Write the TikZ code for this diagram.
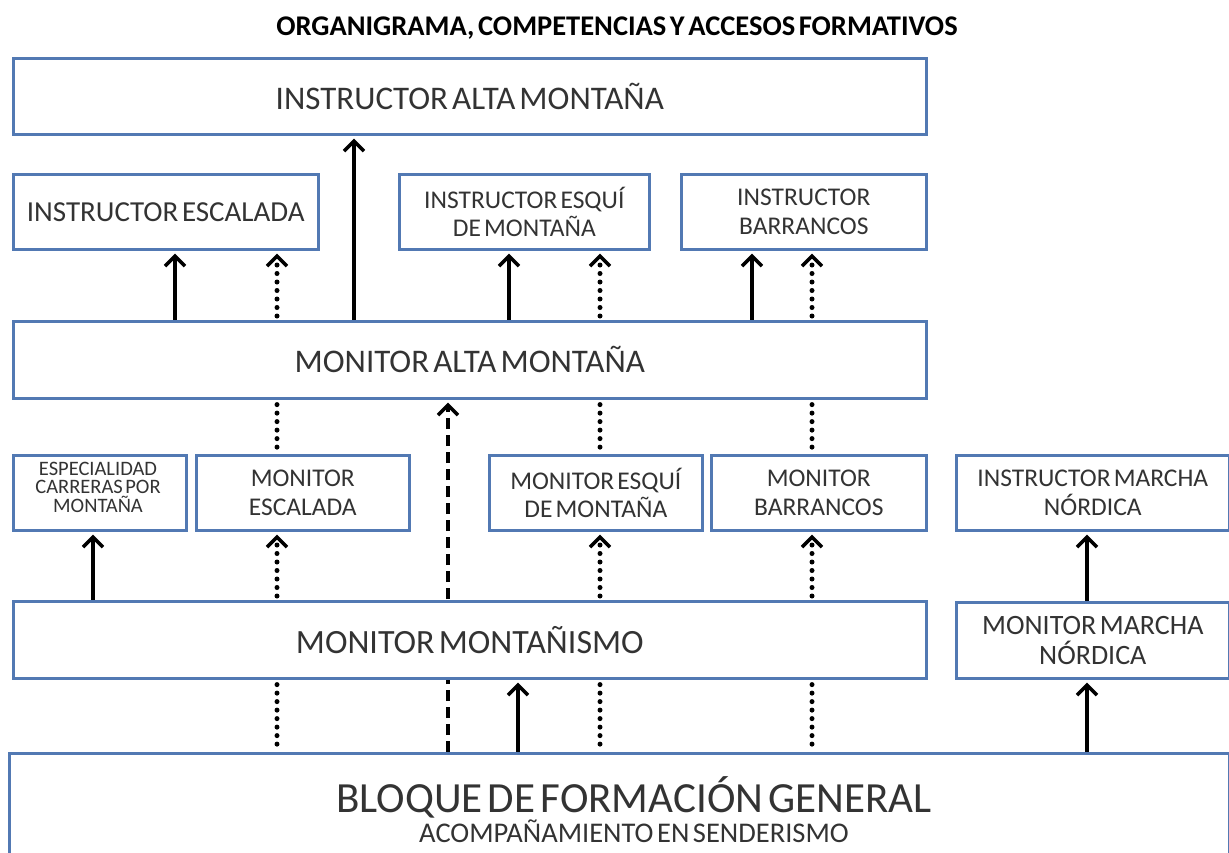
\documentclass[tikz,border=0pt]{standalone}
\usepackage{fontspec}
\setmainfont{Carlito}[WordSpace=0.55]
\usetikzlibrary{arrows.meta,backgrounds}
\definecolor{boxblue}{HTML}{5279B3}
\definecolor{txt}{HTML}{333333}
\tikzset{
  box/.style={draw=boxblue, line width=2.6pt, fill=white, inner sep=0pt, align=center, text=txt, anchor=north west},
  lbl/.style={inner sep=0pt, align=center, text=txt},
  tip/.style={-{Straight Barb[length=10pt,width=20pt,line width=3.5pt]}},
  arr/.style={line width=3.5pt, shorten >=3pt, tip},
  dotarr/.style={line width=5pt, line cap=round, dash pattern=on 0pt off 8.5pt, shorten >=3pt, shorten <=4pt, tip},
  dotline/.style={line width=5pt, line cap=round, dash pattern=on 0pt off 8.5pt, shorten >=5pt, shorten <=5pt},
  dasharr/.style={line width=3.5pt, dash pattern=on 11pt off 6pt, shorten >=3pt, tip},
  fbig/.style={font=\fontsize{33}{38}\selectfont},
  fmid/.style={font=\fontsize{25.5}{28.5}\selectfont},
  fsmall/.style={font=\fontsize{20.5}{18.5}\selectfont},
}
\begin{document}
\begin{tikzpicture}[x=1pt,y=-1pt]
\useasboundingbox (0,0) rectangle (1229,852);
\clip (0,0) rectangle (1229,852);
\node[font=\bfseries\fontsize{28.5}{30}\selectfont] (title) at (617,28) {ORGANIGRAMA, COMPETENCIAS Y ACCESOS FORMATIVOS};
% row 1
\node[box, fbig, minimum width=913pt, minimum height=76pt] (A) at (12,57) {INSTRUCTOR ALTA MONTAÑA};
% row 2
\node[box, font=\fontsize{29}{32}\selectfont, minimum width=305pt, minimum height=75pt] (IEsc) at (12,173) {INSTRUCTOR ESCALADA};
\node[box, fmid, minimum width=250pt, minimum height=75pt] (IEsq) at (398,173) {INSTRUCTOR ESQUÍ\\DE MONTAÑA};
\node[box, fmid, minimum width=245pt, minimum height=75pt] (IBar) at (680,173) {INSTRUCTOR\\BARRANCOS};
% row 3
\node[box, fbig, minimum width=913pt, minimum height=77pt] (MAlta) at (12,320) {MONITOR ALTA MONTAÑA};
% row 4
\node[box, minimum width=173pt, minimum height=75pt] (Esp) at (12,454) {};
\node[lbl, fsmall] (EspT) at (98,487) {ESPECIALIDAD\\CARRERAS POR\\MONTAÑA};
\node[box, fmid, minimum width=213pt, minimum height=75pt] (MEsc) at (195,454) {MONITOR\\ESCALADA};
\node[box, fmid, minimum width=213pt, minimum height=75pt] (MEsq) at (488,454) {MONITOR ESQUÍ\\DE MONTAÑA};
\node[box, fmid, minimum width=215pt, minimum height=75pt] (MBar) at (710,454) {MONITOR\\BARRANCOS};
\node[box, fmid, minimum width=273pt, minimum height=75pt] (IMar) at (955,454) {INSTRUCTOR MARCHA\\NÓRDICA};
% row 5
\node[box, font=\fontsize{34}{38}\selectfont, minimum width=913pt, minimum height=77pt] (MMont) at (12,600) {MONITOR MONTAÑISMO};
\node[box, font=\fontsize{28}{29.5}\selectfont, minimum width=273pt, minimum height=76pt] (MMar) at (955,601) {MONITOR MARCHA\\NÓRDICA};
% bottom
\node[box, minimum width=1220pt, minimum height=118pt] (Bloque) at (8,752) {};
\node[lbl, font=\fontsize{43}{46}\selectfont] (BloqueT) at (634,797) {BLOQUE DE FORMACIÓN GENERAL};
\node[lbl, font=\fontsize{28.5}{30}\selectfont] (BloqueS) at (634,831) {ACOMPAÑAMIENTO EN SENDERISMO};
% connectors
\begin{scope}[on background layer]
\fill[white] (0,0) rectangle (1229,852);
\draw[arr] (354,0 |- MAlta.north) -- (354,0 |- A.south);
\draw[arr] (175,0 |- MAlta.north) -- (175,0 |- IEsc.south);
\draw[dotarr] (277,0 |- MAlta.north) -- (277,0 |- IEsc.south);
\draw[arr] (509,0 |- MAlta.north) -- (509,0 |- IEsq.south);
\draw[dotarr] (600,0 |- MAlta.north) -- (600,0 |- IEsq.south);
\draw[arr] (752,0 |- MAlta.north) -- (752,0 |- IBar.south);
\draw[dotarr] (812,0 |- MAlta.north) -- (812,0 |- IBar.south);
\draw[dotline] (277,0 |- MAlta.south) -- (277,0 |- MEsc.north);
\draw[dotline] (600,0 |- MAlta.south) -- (600,0 |- MEsq.north);
\draw[dotline] (812,0 |- MAlta.south) -- (812,0 |- MBar.north);
\draw[arr] (93,0 |- MMont.north) -- (93,0 |- Esp.south);
\draw[dotarr] (277,0 |- MMont.north) -- (277,0 |- MEsc.south);
\draw[dotarr] (600,0 |- MMont.north) -- (600,0 |- MEsq.south);
\draw[dotarr] (812,0 |- MMont.north) -- (812,0 |- MBar.south);
\draw[arr] (1087,0 |- MMar.north) -- (1087,0 |- IMar.south);
\draw[dasharr] (448,0 |- Bloque.north) -- (448,0 |- MAlta.south);
\draw[arr] (518,0 |- Bloque.north) -- (518,0 |- MMont.south);
\draw[arr] (1087,0 |- Bloque.north) -- (1087,0 |- MMar.south);
\draw[dotline] (277,0 |- MMont.south) -- (277,0 |- Bloque.north);
\draw[dotline] (600,0 |- MMont.south) -- (600,0 |- Bloque.north);
\draw[dotline] (812,0 |- MMont.south) -- (812,0 |- Bloque.north);
\end{scope}
\end{tikzpicture}
\end{document}
